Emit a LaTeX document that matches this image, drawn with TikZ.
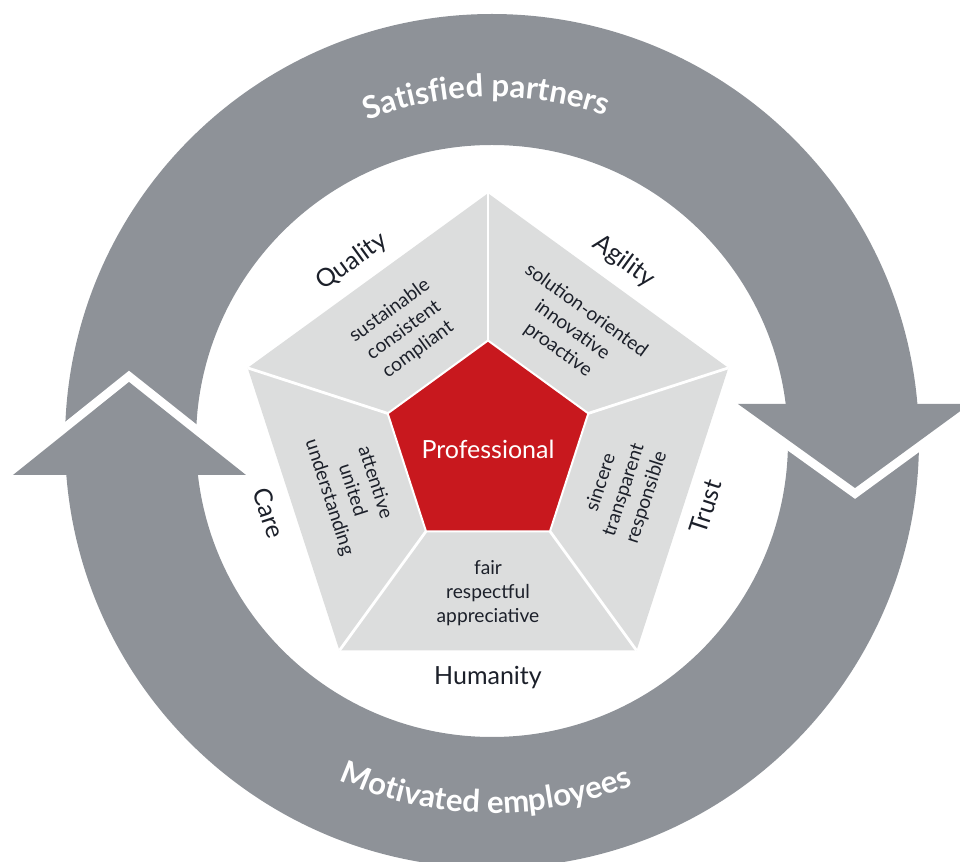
\documentclass[tikz,border=0pt]{standalone}
\usepackage{fontspec}
\setmainfont{Lato}
\usepackage{tikz}
\usetikzlibrary{decorations.text}

\definecolor{ringgray}{RGB}{142,146,152}
\definecolor{palegray}{RGB}{220,221,221}
\definecolor{prored}{RGB}{200,24,30}
\definecolor{ink}{RGB}{28,32,42}
\newcommand{\ringfont}{\color{white}\bfseries\fontsize{15.6}{18}\selectfont}

\begin{document}
\begin{tikzpicture}[x=0.5pt,y=0.5pt]
        \tikzset{sector/.style = {text=ink, font=\fontsize{9.6}{12}\selectfont, align=center}}
        \tikzset{title/.style = {text=ink, font=\fontsize{12.5}{15}\selectfont}}
        \tikzset{gap/.style = {draw=white, line width=8.8pt, line join=miter}}
        \tikzset{sep/.style = {draw=white, line width=1.4pt}}
        \useasboundingbox (-492,-421) rectangle (468,441);

        % ring
        \fill[ringgray, even odd rule] (0,0) circle[radius=427] (0,0) circle[radius=296];

        % arrow heads
        \coordinate (ltip) at (-363,59);
        \coordinate (lleft) at (-479,-34);
        \coordinate (lright) at (-246,-34);
        \coordinate (rtip) at (363,-47);
        \coordinate (rleft) at (246,37);
        \coordinate (rright) at (478,37);
        \begin{scope}
            \clip (-500,-34) rectangle (-200,120);
            \draw[gap] (lleft) -- (ltip) -- (lright);
        \end{scope}
        \begin{scope}
            \clip (200,37) rectangle (500,-120);
            \draw[gap] (rleft) -- (rtip) -- (rright);
        \end{scope}
        \fill[ringgray] (lleft) -- (ltip) -- (lright) -- cycle;
        \fill[ringgray] (rleft) -- (rtip) -- (rright) -- cycle;

        % ring texts
        \path[decorate, decoration={text along path, text align=center,
            text={|\ringfont|Satisfied partners}}] (126:344) arc[start angle=126, end angle=56, radius=344];
        \path[decorate, decoration={text along path, text align=center,
            text={|\ringfont|Motivated employees}}] (234:372) arc[start angle=234, end angle=304, radius=372];

        % pentagon
        \begin{scope}[shift={(-4,-5)}]
            \foreach \i in {0,...,4} {
                \coordinate (o\i) at (90+72*\i:252.7);
                \coordinate (p\i) at (90+72*\i:105.5);
            }
            \fill[palegray] (o0) -- (o1) -- (o2) -- (o3) -- (o4) -- cycle;
            \foreach \i in {0,...,4} \draw[sep] (p\i) -- (o\i);
            \filldraw[fill=prored, draw=white, line width=1pt] (p0) -- (p1) -- (p2) -- (p3) -- (p4) -- cycle;
            \node[text=white, font=\fontsize{12.5}{15}\selectfont] (pro) at (0,-3) {Professional};

            % sectors
            \node[sector, rotate=36] (quality) at (126:143) {sustainable\\consistent\\compliant};
            \node[sector, rotate=-36] (agility) at (54:143) {solution-oriented\\innovative\\proactive};
            \node[sector, rotate=72] (trust) at (-18:143) {sincere\\transparent\\responsible};
            \node[sector] (humanity) at (270:147) {fair\\respectful\\appreciative};
            \node[sector, rotate=-72] (care) at (198:143) {attentive\\united\\understanding};

            % titles
            \node[title, rotate=36] (qualityT) at (126.4:229) {Quality};
            \node[title, rotate=-36] (agilityT) at (53.6:229) {Agility};
            \node[title, rotate=72] (trustT) at (-15.6:226) {Trust};
            \node[title] (humanityT) at (270:232) {Humanity};
            \node[title, rotate=-72] (careT) at (197:229) {Care};
        \end{scope}
\end{tikzpicture}
\end{document}
